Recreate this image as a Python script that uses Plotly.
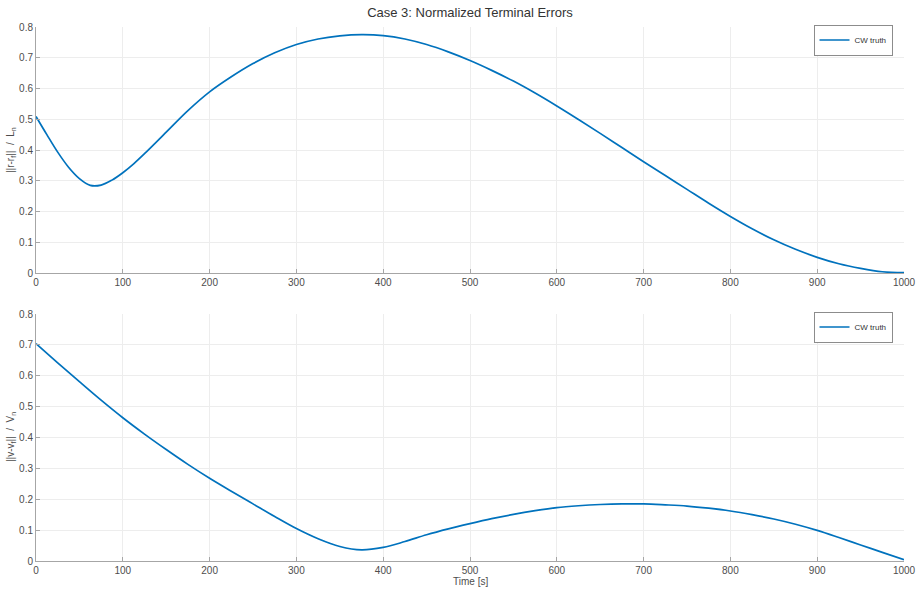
import plotly.graph_objects as go

# Top panel: normalized position error (finer sampling around the early dip)
t_pos = [0, 12.5, 25, 37.5, 50, 62.5, 75, 87.5, 100, 112.5, 125, 150, 175, 200, 225, 250,
         275, 300, 325, 350, 375, 400, 425, 450, 475, 500, 525, 550, 575, 600, 625, 650,
         675, 700, 725, 750, 775, 800, 825, 850, 875, 900, 925, 950, 975, 1000]
err_pos = [0.509, 0.450, 0.393, 0.344, 0.307, 0.285, 0.286, 0.302, 0.326, 0.355, 0.388,
           0.458, 0.528, 0.589, 0.638, 0.681, 0.716, 0.743, 0.761, 0.771, 0.775, 0.772,
           0.761, 0.743, 0.719, 0.691, 0.659, 0.624, 0.585, 0.543, 0.499, 0.454, 0.408,
           0.362, 0.317, 0.272, 0.227, 0.184, 0.144, 0.108, 0.077, 0.051, 0.030, 0.015,
           0.004, 0.001]

# Bottom panel: normalized velocity error
t_vel = [0, 25, 50, 75, 100, 125, 150, 175, 200, 225, 250, 275, 300, 325, 350, 375, 400,
         425, 450, 475, 500, 525, 550, 575, 600, 625, 650, 675, 700, 725, 750, 775, 800,
         825, 850, 875, 900, 925, 950, 975, 1000]
err_vel = [0.704, 0.642, 0.581, 0.521, 0.464, 0.411, 0.361, 0.313, 0.268, 0.226, 0.185,
           0.144, 0.105, 0.072, 0.047, 0.036, 0.044, 0.063, 0.085, 0.104, 0.121, 0.137,
           0.151, 0.163, 0.173, 0.179, 0.183, 0.185, 0.185, 0.182, 0.178, 0.171, 0.162,
           0.150, 0.136, 0.119, 0.099, 0.076, 0.052, 0.028, 0.004]

x_ticks = [0, 100, 200, 300, 400, 500, 600, 700, 800, 900, 1000]
y_ticks = [0, 0.1, 0.2, 0.3, 0.4, 0.5, 0.6, 0.7, 0.8]

W, H = 922, 591
line_col = "#0072BD"
grid_col = "#ededed"
axis_col = "#a6a6a6"
txt_col = "#4d4d4d"
font_fam = "Liberation Sans, Arial, sans-serif"

fig = go.Figure()
fig.add_trace(go.Scatter(x=t_pos, y=err_pos, mode="lines", name="CW truth", showlegend=True,
                         line=dict(color=line_col, width=1.7, shape="spline", smoothing=1.0),
                         xaxis="x", yaxis="y", legend="legend"))
fig.add_trace(go.Scatter(x=t_vel, y=err_vel, mode="lines", name="CW truth", showlegend=True,
                         line=dict(color=line_col, width=1.7, shape="spline", smoothing=1.0),
                         xaxis="x2", yaxis="y2", legend="legend2"))


def px(v):
    return v / W


def py(v):
    return 1 - v / H


xcommon = dict(range=[0, 1000], tickvals=x_ticks, showgrid=True, gridcolor=grid_col,
               showline=True, linecolor=axis_col, linewidth=1, ticks="inside", ticklen=4,
               tickcolor=axis_col, tickfont=dict(size=10, color=txt_col, family=font_fam),
               zeroline=False, domain=[px(36), px(904)], mirror=False, automargin=False)
ycommon = dict(range=[0, 0.8], tickvals=y_ticks, showgrid=True, gridcolor=grid_col,
               showline=True, linecolor=axis_col, linewidth=1, ticks="inside", ticklen=4,
               tickcolor=axis_col, tickfont=dict(size=10, color=txt_col, family=font_fam),
               zeroline=False, automargin=False)

legend_style = dict(xanchor="center", yanchor="middle", bordercolor="#8c8c8c", borderwidth=1,
                    bgcolor="white", font=dict(size=8, color="#333333", family=font_fam),
                    itemwidth=30, tracegroupgap=0)

fig.update_layout(
    width=W, height=H,
    margin=dict(l=0, r=0, t=0, b=0),
    paper_bgcolor="white", plot_bgcolor="white",
    font=dict(family=font_fam, color=txt_col),
    showlegend=True,
    xaxis=dict(**xcommon, anchor="y"),
    yaxis=dict(**ycommon, anchor="x", domain=[py(273), py(27)]),
    xaxis2=dict(**xcommon, anchor="y2"),
    yaxis2=dict(**ycommon, anchor="x2", domain=[py(561), py(314)]),
    title=dict(text="Case 3: Normalized Terminal Errors", x=px(470), xanchor="center",
               y=py(12), yanchor="middle",
               font=dict(size=13, color="#333333", family=font_fam)),
    legend=dict(x=px(853), y=py(40), **legend_style),
    legend2=dict(x=px(853), y=py(327), **legend_style),
)

# Axis titles as annotations (positioned in figure pixels)
fig.add_annotation(text="||r-r<sub>f</sub>||  /  L<sub>n</sub>", x=px(11), y=py(150),
                   xref="paper", yref="paper", textangle=-90, showarrow=False,
                   xanchor="center", yanchor="middle",
                   font=dict(size=10, color=txt_col, family=font_fam))
fig.add_annotation(text="||v-v<sub>f</sub>||  /  V<sub>n</sub>", x=px(11), y=py(437),
                   xref="paper", yref="paper", textangle=-90, showarrow=False,
                   xanchor="center", yanchor="middle",
                   font=dict(size=10, color=txt_col, family=font_fam))
fig.add_annotation(text="Time [s]", x=px(470), y=py(581), xref="paper", yref="paper",
                   showarrow=False, xanchor="center", yanchor="middle",
                   font=dict(size=10, color=txt_col, family=font_fam))

fig.write_html("out.html")
